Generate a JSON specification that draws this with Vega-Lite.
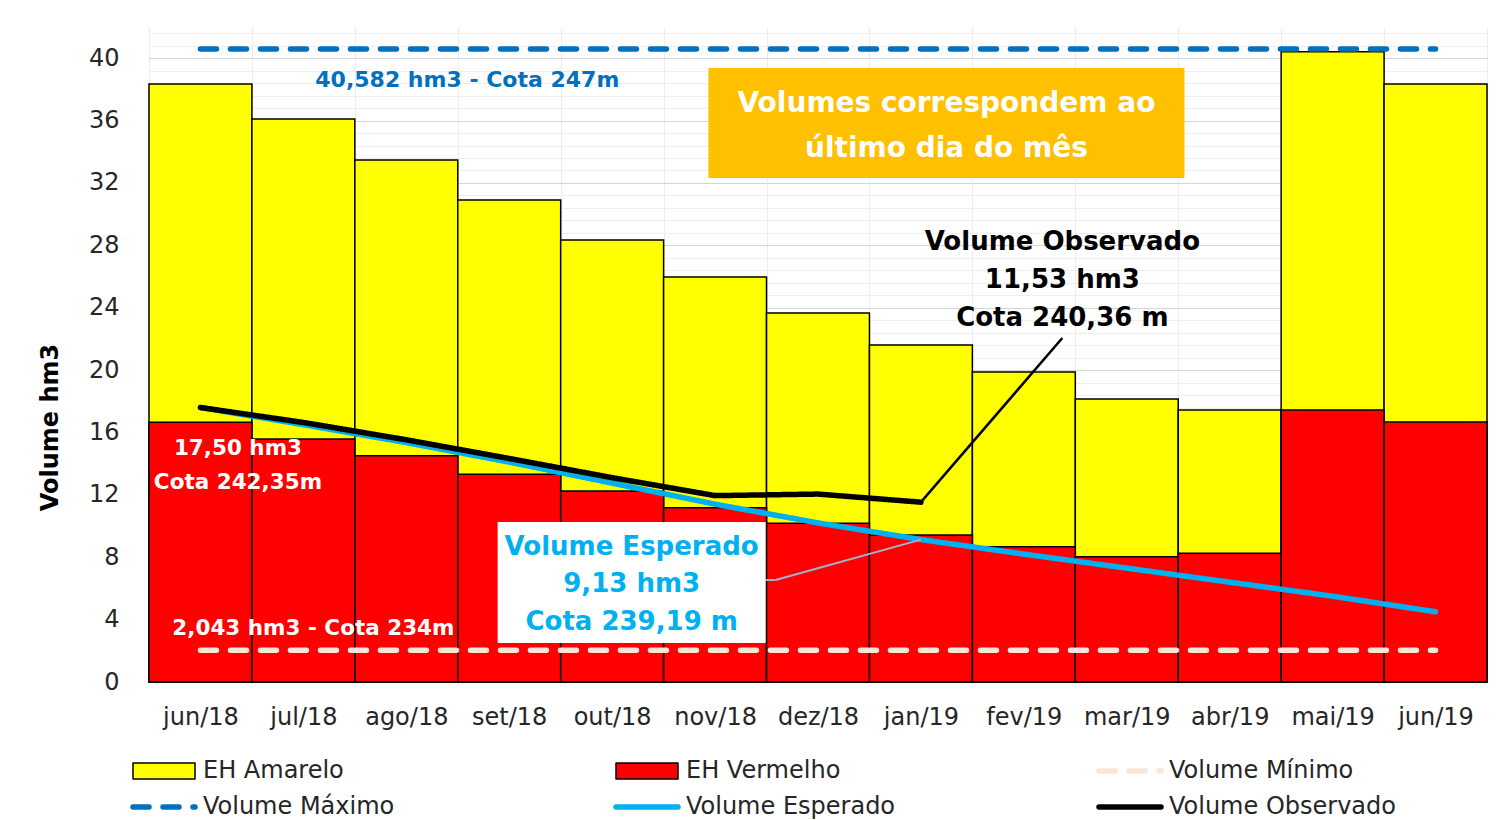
{
  "$schema": "https://vega.github.io/schema/vega-lite/v6.json",
  "width": 1338,
  "height": 655,
  "autosize": {"type": "none"},
  "padding": {"left": 149, "top": 27, "right": 12, "bottom": 138},
  "background": "white",
  "config": {
    "view": {"stroke": null},
    "font": "DejaVu Sans",
    "legend": {
      "orient": "none",
      "legendX": 3,
      "legendY": 732,
      "columns": 3,
      "gridAlign": "all",
      "columnPadding": 175,
      "rowPadding": 12,
      "symbolSize": 400,
      "labelFont": "DejaVu Sans",
      "labelFontSize": 24,
      "labelColor": "#262626",
      "labelOffset": 27,
      "labelLimit": 400,
      "padding": 0
    }
  },
  "datasets": {
    "barras": [
      {"mes": "jun/18", "serie": "EH Amarelo", "v": 38.35},
      {"mes": "jul/18", "serie": "EH Amarelo", "v": 36.10},
      {"mes": "ago/18", "serie": "EH Amarelo", "v": 33.47},
      {"mes": "set/18", "serie": "EH Amarelo", "v": 30.91},
      {"mes": "out/18", "serie": "EH Amarelo", "v": 28.34},
      {"mes": "nov/18", "serie": "EH Amarelo", "v": 25.97},
      {"mes": "dez/18", "serie": "EH Amarelo", "v": 23.66},
      {"mes": "jan/19", "serie": "EH Amarelo", "v": 21.61},
      {"mes": "fev/19", "serie": "EH Amarelo", "v": 19.88},
      {"mes": "mar/19", "serie": "EH Amarelo", "v": 18.15},
      {"mes": "abr/19", "serie": "EH Amarelo", "v": 17.44},
      {"mes": "mai/19", "serie": "EH Amarelo", "v": 40.42},
      {"mes": "jun/19", "serie": "EH Amarelo", "v": 38.35},
      {"mes": "jun/18", "serie": "EH Vermelho", "v": 16.65},
      {"mes": "jul/18", "serie": "EH Vermelho", "v": 15.58},
      {"mes": "ago/18", "serie": "EH Vermelho", "v": 14.51},
      {"mes": "set/18", "serie": "EH Vermelho", "v": 13.32},
      {"mes": "out/18", "serie": "EH Vermelho", "v": 12.25},
      {"mes": "nov/18", "serie": "EH Vermelho", "v": 11.18},
      {"mes": "dez/18", "serie": "EH Vermelho", "v": 10.18},
      {"mes": "jan/19", "serie": "EH Vermelho", "v": 9.43},
      {"mes": "fev/19", "serie": "EH Vermelho", "v": 8.68},
      {"mes": "mar/19", "serie": "EH Vermelho", "v": 8.03},
      {"mes": "abr/19", "serie": "EH Vermelho", "v": 8.25},
      {"mes": "mai/19", "serie": "EH Vermelho", "v": 17.44},
      {"mes": "jun/19", "serie": "EH Vermelho", "v": 16.67}
    ],
    "linhas": [
      {"mes": "jun/18", "serie": "Volume Mínimo", "v": 2.043},
      {"mes": "jun/19", "serie": "Volume Mínimo", "v": 2.043},
      {"mes": "jun/18", "serie": "Volume Máximo", "v": 40.582},
      {"mes": "jun/19", "serie": "Volume Máximo", "v": 40.582},
      {"mes": "jun/18", "serie": "Volume Esperado", "v": 17.6},
      {"mes": "jul/18", "serie": "Volume Esperado", "v": 16.5},
      {"mes": "ago/18", "serie": "Volume Esperado", "v": 15.35},
      {"mes": "set/18", "serie": "Volume Esperado", "v": 14.1},
      {"mes": "out/18", "serie": "Volume Esperado", "v": 12.75},
      {"mes": "nov/18", "serie": "Volume Esperado", "v": 11.4},
      {"mes": "dez/18", "serie": "Volume Esperado", "v": 10.2},
      {"mes": "jan/19", "serie": "Volume Esperado", "v": 9.13},
      {"mes": "fev/19", "serie": "Volume Esperado", "v": 8.2},
      {"mes": "mar/19", "serie": "Volume Esperado", "v": 7.3},
      {"mes": "abr/19", "serie": "Volume Esperado", "v": 6.4},
      {"mes": "mai/19", "serie": "Volume Esperado", "v": 5.5},
      {"mes": "jun/19", "serie": "Volume Esperado", "v": 4.5},
      {"mes": "jun/18", "serie": "Volume Observado", "v": 17.6},
      {"mes": "jul/18", "serie": "Volume Observado", "v": 16.64},
      {"mes": "ago/18", "serie": "Volume Observado", "v": 15.53},
      {"mes": "set/18", "serie": "Volume Observado", "v": 14.33},
      {"mes": "out/18", "serie": "Volume Observado", "v": 13.1},
      {"mes": "nov/18", "serie": "Volume Observado", "v": 11.95},
      {"mes": "dez/18", "serie": "Volume Observado", "v": 12.05},
      {"mes": "jan/19", "serie": "Volume Observado", "v": 11.53}
    ]
  },
  "encoding": {
    "x": {
      "field": "mes",
      "type": "nominal",
      "sort": null,
      "scale": {
        "domain": ["jun/18", "jul/18", "ago/18", "set/18", "out/18", "nov/18", "dez/18", "jan/19", "fev/19", "mar/19", "abr/19", "mai/19", "jun/19"],
        "paddingInner": 0,
        "paddingOuter": 0
      },
      "axis": {
        "title": null,
        "labelAngle": 0,
        "labelFont": "DejaVu Sans",
        "labelFontSize": 24,
        "labelColor": "#262626",
        "labelPadding": 23,
        "ticks": false,
        "tickBand": "extent",
        "domainColor": "#d9d9d9",
        "domainWidth": 1.5,
        "grid": true,
        "gridColor": "#ececec",
        "gridWidth": 1
      }
    },
    "y": {
      "field": "v",
      "type": "quantitative",
      "stack": null,
      "scale": {"domain": [0, 42], "nice": false, "zero": true},
      "axis": {
        "title": "Volume hm3",
        "titleFont": "DejaVu Sans",
        "titleFontSize": 24,
        "titleFontWeight": "bold",
        "titleColor": "#000000",
        "titlePadding": 26,
        "titleY": 400,
        "values": [0, 0.8, 1.6, 2.4, 3.2, 4, 4.8, 5.6, 6.4, 7.2, 8, 8.8, 9.6, 10.4, 11.2, 12, 12.8, 13.6, 14.4, 15.2, 16, 16.8, 17.6, 18.4, 19.2, 20, 20.8, 21.6, 22.4, 23.2, 24, 24.8, 25.6, 26.4, 27.2, 28, 28.8, 29.6, 30.4, 31.2, 32, 32.8, 33.6, 34.4, 35.2, 36, 36.8, 37.6, 38.4, 39.2, 40, 40.8, 41.6],
        "labelExpr": "datum.value % 4 === 0 ? datum.label : ''",
        "labelOverlap": false,
        "labelFont": "DejaVu Sans",
        "labelFontSize": 24,
        "labelColor": "#262626",
        "labelPadding": 30,
        "ticks": false,
        "domain": false,
        "grid": true,
        "gridColor": {"condition": {"test": "datum.value % 4 === 0", "value": "#d4d4d4"}, "value": "#eeeeee"},
        "gridWidth": 1
      }
    }
  },
  "layer": [
    {
      "data": {"name": "barras"},
      "mark": {"type": "bar", "stroke": "#000000", "strokeWidth": 1.5},
      "encoding": {
        "fill": {
          "field": "serie",
          "type": "nominal",
          "scale": {"domain": ["EH Amarelo", "EH Vermelho"], "range": ["#FFFF00", "#FF0000"]},
          "legend": null
        }
      }
    },
    {
      "data": {"name": "linhas"},
      "mark": {"type": "line", "strokeWidth": 5.5, "strokeCap": "round"},
      "encoding": {
        "stroke": {
          "field": "serie",
          "type": "nominal",
          "scale": {
            "domain": ["EH Amarelo", "Volume Máximo", "EH Vermelho", "Volume Esperado", "Volume Mínimo", "Volume Observado"],
            "range": ["#000000", "#0070C0", "#000000", "#00B0F0", "#FBE5D6", "#000000"]
          },
          "legend": {
            "title": null,
            "encoding": {
              "symbols": {
                "shape": {"value": {"expr": "(datum.value === 'EH Amarelo' || datum.value === 'EH Vermelho') ? 'M-3.1,-0.8H3.1V0.8H-3.1Z' : 'M-3.1,0H3.1'"}},
                "fill": {"value": {"expr": "datum.value === 'EH Amarelo' ? '#FFFF00' : (datum.value === 'EH Vermelho' ? '#FF0000' : 'transparent')"}},
                "strokeWidth": {"value": {"expr": "(datum.value === 'EH Amarelo' || datum.value === 'EH Vermelho') ? 1.5 : 5.5"}},
                "strokeCap": {"value": "round"}
              }
            }
          }
        },
        "strokeDash": {
          "field": "serie",
          "type": "nominal",
          "scale": {
            "domain": ["EH Amarelo", "Volume Máximo", "EH Vermelho", "Volume Esperado", "Volume Mínimo", "Volume Observado"],
            "range": [[1, 0], [16, 14], [1, 0], [1, 0], [16, 14], [1, 0]]
          },
          "legend": {
            "title": null,
            "encoding": {
              "symbols": {
                "shape": {"value": {"expr": "(datum.value === 'EH Amarelo' || datum.value === 'EH Vermelho') ? 'M-3.1,-0.8H3.1V0.8H-3.1Z' : 'M-3.1,0H3.1'"}},
                "fill": {"value": {"expr": "datum.value === 'EH Amarelo' ? '#FFFF00' : (datum.value === 'EH Vermelho' ? '#FF0000' : 'transparent')"}},
                "strokeWidth": {"value": {"expr": "(datum.value === 'EH Amarelo' || datum.value === 'EH Vermelho') ? 1.5 : 5.5"}},
                "strokeCap": {"value": "round"}
              }
            }
          }
        }
      }
    },
    {
      "data": {"values": [{"mes": "jan/19", "v": 11.53, "mes2": "fev/19", "v2": 22.06}]},
      "mark": {"type": "rule", "color": "#000000", "strokeWidth": 2.5, "x2Offset": 38.5},
      "encoding": {"x2": {"field": "mes2"}, "y2": {"field": "v2"}}
    },
    {
      "data": {"values": [{"mes": "nov/18", "v": 6.54, "mes2": "dez/18", "v2": 6.54}]},
      "mark": {"type": "rule", "color": "#9DB4CF", "strokeWidth": 2, "xOffset": 50.5, "x2Offset": -42.5},
      "encoding": {"x2": {"field": "mes2"}, "y2": {"field": "v2"}}
    },
    {
      "data": {"values": [{"mes": "dez/18", "v": 6.54, "mes2": "jan/19", "v2": 9.13}]},
      "mark": {"type": "rule", "color": "#9DB4CF", "strokeWidth": 2, "xOffset": -42.5},
      "encoding": {"x2": {"field": "mes2"}, "y2": {"field": "v2"}}
    },
    {
      "data": {"values": [{"mes": "jan/19", "v": 32.32, "v2": 39.37}]},
      "mark": {"type": "bar", "width": 476, "xOffset": 25.5, "color": "#FFC000"},
      "encoding": {"y2": {"field": "v2"}}
    },
    {
      "data": {"values": [{"mes": "out/18", "v": 2.5, "v2": 10.26}]},
      "mark": {"type": "bar", "width": 268, "xOffset": 19.5, "color": "#FFFFFF"},
      "encoding": {"y2": {"field": "v2"}}
    },
    {
      "data": {"values": [{"mes": "ago/18", "v": 38.6, "rotulo": "40,582 hm3 - Cota 247m"}]},
      "mark": {"type": "text", "dx": 61, "font": "DejaVu Sans", "fontSize": 22, "fontWeight": "bold", "color": "#0070C0", "align": "center", "baseline": "middle"},
      "encoding": {"text": {"field": "rotulo"}}
    },
    {
      "data": {"values": [{"mes": "jan/19", "v": 37.06, "rotulo": ["Volumes correspondem ao", "último dia do mês"]}]},
      "mark": {"type": "text", "dx": 25.5, "font": "DejaVu Sans", "fontSize": 28, "fontWeight": "bold", "color": "#FFFFFF", "align": "center", "baseline": "middle", "lineHeight": 45},
      "encoding": {"text": {"field": "rotulo"}}
    },
    {
      "data": {"values": [{"mes": "fev/19", "v": 28.21, "rotulo": ["Volume Observado", "11,53 hm3", "Cota 240,36 m"]}]},
      "mark": {"type": "text", "dx": 38.5, "font": "DejaVu Sans", "fontSize": 26, "fontWeight": "bold", "color": "#000000", "align": "center", "baseline": "middle", "lineHeight": 38},
      "encoding": {"text": {"field": "rotulo"}}
    },
    {
      "data": {"values": [{"mes": "out/18", "v": 8.66, "rotulo": ["Volume Esperado", "9,13 hm3", "Cota 239,19 m"]}]},
      "mark": {"type": "text", "dx": 19.5, "font": "DejaVu Sans", "fontSize": 26, "fontWeight": "bold", "color": "#00B0F0", "align": "center", "baseline": "middle", "lineHeight": 37.5},
      "encoding": {"text": {"field": "rotulo"}}
    },
    {
      "data": {"values": [{"mes": "jun/18", "v": 14.94, "rotulo": ["17,50 hm3", "Cota 242,35m"]}]},
      "mark": {"type": "text", "dx": 37.5, "font": "DejaVu Sans", "fontSize": 21.5, "fontWeight": "bold", "color": "#FFFFFF", "align": "center", "baseline": "middle", "lineHeight": 34},
      "encoding": {"text": {"field": "rotulo"}}
    },
    {
      "data": {"values": [{"mes": "jul/18", "v": 3.4, "rotulo": "2,043 hm3 - Cota 234m"}]},
      "mark": {"type": "text", "dx": 10, "font": "DejaVu Sans", "fontSize": 21.5, "fontWeight": "bold", "color": "#FFFFFF", "align": "center", "baseline": "middle"},
      "encoding": {"text": {"field": "rotulo"}}
    }
  ]
}
